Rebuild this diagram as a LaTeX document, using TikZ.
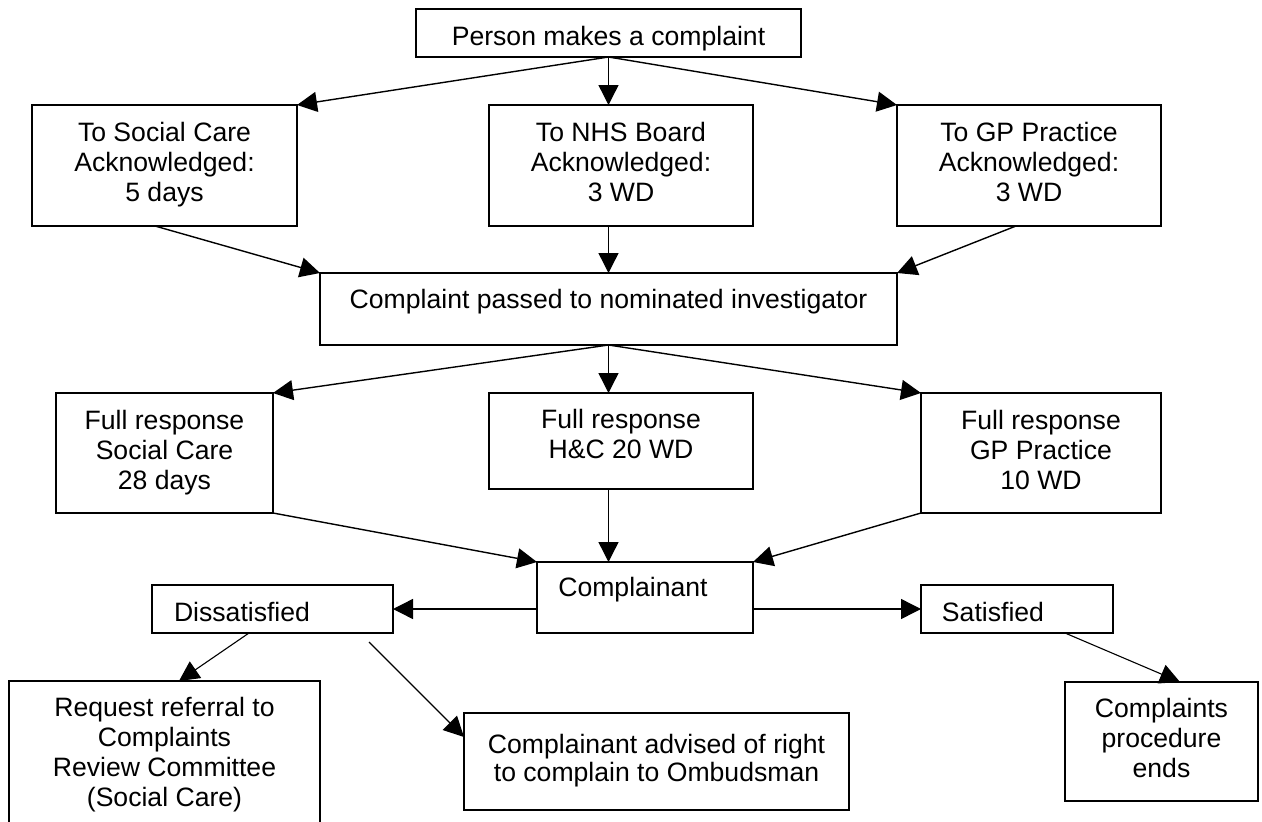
\documentclass[tikz,border=0pt]{standalone}
\usepackage{fontspec}
\setmainfont{Liberation Sans}
\usetikzlibrary{arrows.meta,calc}
\newcommand{\bx}[3]{\raisebox{#1}[\height][\depth]{\kern#2\begin{tabular}{@{}c@{}}#3\end{tabular}\kern-#2}}
\begin{document}
\begin{tikzpicture}[x=1pt,y=-1pt,
  every node/.style={font=\fontsize{26.6}{30}\selectfont},
  box/.style={draw,line width=1.6pt,rectangle,inner sep=0pt,outer sep=0pt,line join=miter},
  arr/.style={line width=1.4pt,-{Triangle[length=20pt,width=20pt]}},
  arrt/.style={line width=1.1pt,-{Triangle[length=20pt,width=20pt]}}]
\useasboundingbox (0,0) rectangle (1262,822);
\fill[white] (0,0) rectangle (1262,822);
\clip (0,0) rectangle (1262,822);
% boxes
\node[box,minimum width=385pt,minimum height=48pt] (top) at (608.5,33) {\bx{-6.5pt}{0pt}{Person makes a complaint}};
\node[box,minimum width=265pt,minimum height=121pt] (sc) at (164.5,165.5) {\bx{0pt}{0pt}{To Social Care\\Acknowledged:\\5 days}};
\node[box,minimum width=264pt,minimum height=121pt] (nhs) at (621,165.5) {\bx{0pt}{0pt}{To NHS Board\\Acknowledged:\\3 WD}};
\node[box,minimum width=264pt,minimum height=121pt] (gp) at (1029,165.5) {\bx{0pt}{0pt}{To GP Practice\\Acknowledged:\\3 WD}};
\node[box,minimum width=577pt,minimum height=72pt] (inv) at (608.5,309) {\bx{6.5pt}{0pt}{Complaint passed to nominated investigator}};
\node[box,minimum width=217pt,minimum height=120pt] (fsc) at (164.5,453) {\bx{0pt}{0pt}{Full response\\Social Care\\28 days}};
\node[box,minimum width=264pt,minimum height=96pt] (fhc) at (621,441) {\bx{3.5pt}{0pt}{Full response\\H\&C 20 WD}};
\node[box,minimum width=240pt,minimum height=120pt] (fgp) at (1041,453) {\bx{0pt}{0pt}{Full response\\GP Practice\\10 WD}};
\node[box,minimum width=216pt,minimum height=71pt] (comp) at (645,597.5) {\bx{7.5pt}{-12pt}{Complainant}};
\node[box,minimum width=241pt,minimum height=48pt] (dis) at (272.5,609) {\bx{-6.5pt}{-30.5pt}{Dissatisfied}};
\node[box,minimum width=192pt,minimum height=48pt] (sat) at (1017,609) {\bx{-6pt}{-24pt}{Satisfied}};
\node[box,minimum width=311pt,minimum height=149pt] (req) at (164.5,755.5) {\bx{0pt}{0pt}{Request referral to\\Complaints\\Review Committee\\(Social Care)}};
\node[box,minimum width=385pt,minimum height=97pt] (omb) at (656.5,761.5) {\bx{0pt}{0pt}{Complainant advised of right\\[-2.5pt]to complain to Ombudsman}};
\node[box,minimum width=193pt,minimum height=119pt] (cpe) at (1161.5,741.5) {\bx{0pt}{0pt}{Complaints\\procedure\\ends}};
% connectors
\draw[arr] (top.south) -- (sc.north east);
\draw[arr] (top.south) -- (top.south |- nhs.north);
\draw[arr] (top.south) -- (gp.north west);
\draw[arr] ([xshift=-9.5pt]sc.south) -- (inv.north west);
\draw[arr] (inv.north |- nhs.south) -- (inv.north);
\draw[arr] ([xshift=-13pt]gp.south) -- (inv.north east);
\draw[arr] (inv.south) -- (fsc.north east);
\draw[arr] (inv.south) -- (inv.south |- fhc.north);
\draw[arr] (inv.south) -- (fgp.north west);
\draw[arr] (fsc.south east) -- (comp.north west);
\draw[arr] (inv.south |- fhc.south) -- (inv.south |- comp.north);
\draw[arr] (fgp.south west) -- (comp.north east);
\draw[arr] (comp.west |- dis.east) -- (dis.east);
\draw[arr] (comp.east |- sat.west) -- (sat.west);
\draw[arrt] ([xshift=-23.5pt]dis.south) -- ([xshift=14.5pt]req.north);
\draw[arrt] ([xshift=96.5pt,yshift=-9pt]dis.south) -- ([yshift=24.5pt]omb.west);
\draw[arrt] ([xshift=48pt]sat.south) -- ([xshift=18.5pt]cpe.north);
\end{tikzpicture}
\end{document}
